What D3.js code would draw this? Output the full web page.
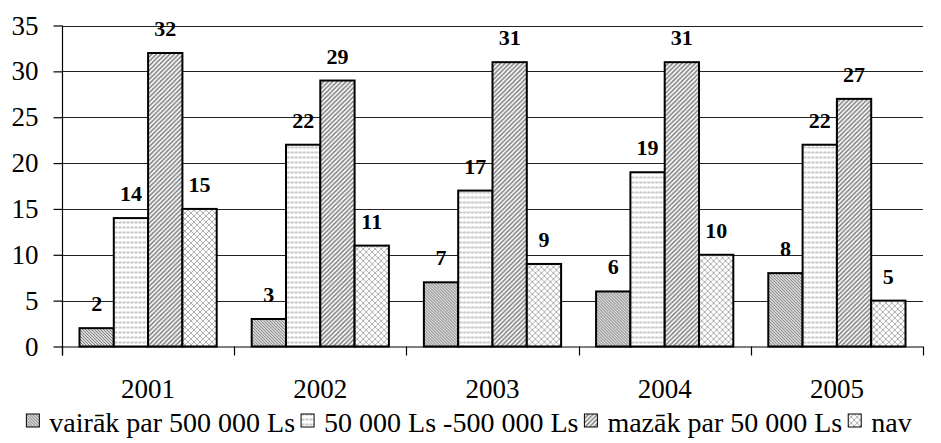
<!DOCTYPE html>
<html><head><meta charset="utf-8">
<script src="https://cdn.jsdelivr.net/npm/d3@7"></script>
</head>
<body style="margin:0;background:#fff">
<svg id="chart" width="941" height="443"></svg>
<script>
const years = ["2001","2002","2003","2004","2005"];
const seriesNames = ["vairāk par 500 000 Ls","50 000 Ls -500 000 Ls","mazāk par 50 000 Ls","nav"];
const s1 = [2,3,7,6,8];
const s2 = [14,22,17,19,22];
const s3 = [32,29,31,31,27];
const s4 = [15,11,9,10,5];
const yTicks = [0,5,10,15,20,25,30,35];

const seriesValues = [s1,s2,s3,s4];
const FONT = "Liberation Serif";
const svg = d3.select("#chart");
const L = 62, R = 923, T = 25.5, B = 346.5;

// patterns
const defs = svg.append("defs");
const p1 = defs.append("pattern").attr("id","pat0").attr("patternUnits","userSpaceOnUse").attr("width",3).attr("height",3);
p1.append("rect").attr("width",3).attr("height",3).attr("fill","#fff");
p1.append("path").attr("d","M-1,-1 L4,4 M-1,2 L1,4 M2,-1 L4,1").attr("stroke","#7a7a7a").attr("stroke-width",1.1);

const p2 = defs.append("pattern").attr("id","pat1").attr("patternUnits","userSpaceOnUse").attr("width",4).attr("height",5);
p2.append("rect").attr("width",4).attr("height",5).attr("fill","#fff");
p2.append("path").attr("d","M0,3.5 L2,1.5 L2,3.5 L4,1.5").attr("stroke","#b8b8b8").attr("stroke-width",1).attr("fill","none");

const p3 = defs.append("pattern").attr("id","pat2").attr("patternUnits","userSpaceOnUse").attr("width",4.5).attr("height",4.5);
p3.append("rect").attr("width",4.5).attr("height",4.5).attr("fill","#fff");
p3.append("path").attr("d","M-1,5.5 L5.5,-1 M-1,1 L1,-1 M3.5,5.5 L5.5,3.5").attr("stroke","#808080").attr("stroke-width",1.5);

const p4 = defs.append("pattern").attr("id","pat3").attr("patternUnits","userSpaceOnUse").attr("width",6).attr("height",6);
p4.append("rect").attr("width",6).attr("height",6).attr("fill","#fff");
p4.append("path").attr("d","M0,0 L6,6 M6,0 L0,6").attr("stroke","#b0b0b0").attr("stroke-width",1);

const y = d3.scaleLinear().domain([0,35]).range([B,T]);
const x0 = d3.scaleBand().domain(years).range([L,R]).padding(0);
const x1 = d3.scaleBand().domain(d3.range(4)).range([0,x0.bandwidth()]).paddingInner(0).paddingOuter(0.51);

// gridlines
svg.append("g").selectAll("line").data(yTicks.filter(d=>d>0)).join("line")
  .attr("x1",L).attr("x2",R).attr("y1",d=>Math.round(y(d))+0.5).attr("y2",d=>Math.round(y(d))+0.5)
  .attr("stroke","#222").attr("stroke-width",1.2);

// y axis
const yAxis = d3.axisLeft(y).tickValues(yTicks).tickSize(9).tickPadding(15);
const gy = svg.append("g").attr("transform",`translate(${L+0.5},0)`).call(yAxis);
gy.attr("font-family",FONT).attr("font-size",27);
gy.select(".domain").attr("stroke","#000").attr("stroke-width",1.2).attr("d",`M0,${T}V${B+9}`);
gy.selectAll(".tick line").attr("stroke","#000").attr("stroke-width",1.2);
gy.selectAll(".tick text").attr("font-family",FONT).attr("font-size",27).attr("fill","#000");

// bars
const groups = svg.append("g").selectAll("g").data(years).join("g")
  .attr("transform",d=>`translate(${x0(d)},0)`);
groups.selectAll("rect").data((d,i)=>seriesValues.map((s,k)=>({k, v:s[i]}))).join("rect")
  .attr("x",d=>x1(d.k)).attr("width",x1.bandwidth())
  .attr("y",d=>y(d.v)).attr("height",d=>y(0)-y(d.v))
  .attr("fill",d=>`url(#pat${d.k})`).attr("stroke","#000").attr("stroke-width",2);
groups.selectAll("text").data((d,i)=>seriesValues.map((s,k)=>({k, v:s[i]}))).join("text")
  .attr("x",d=>x1(d.k)+x1.bandwidth()/2).attr("y",d=>y(d.v)-17)
  .attr("text-anchor","middle").attr("font-family",FONT).attr("font-weight","bold")
  .attr("font-size",22).attr("fill","#000").text(d=>d.v);

// x axis
const xAxis = d3.axisBottom(x0).tickSize(0).tickPadding(32);
const gx = svg.append("g").attr("transform",`translate(0,${B+0.5})`).call(xAxis);
gx.attr("font-family",FONT).attr("font-size",27);
gx.select(".domain").attr("stroke","#000").attr("stroke-width",1.2).attr("d",`M${L},0H${R}`);
gx.selectAll(".tick text").attr("font-family",FONT).attr("font-size",27).attr("fill","#000");
svg.append("g").selectAll("line").data(years.map(d=>x0(d)).concat([R])).join("line")
  .attr("x1",d=>Math.round(d)+0.5).attr("x2",d=>Math.round(d)+0.5).attr("y1",B).attr("y2",B+9)
  .attr("stroke","#000").attr("stroke-width",1.2);

// legend
const leg = svg.append("g");
const items = leg.selectAll("g").data(seriesNames).join("g");
items.append("rect").attr("width",13).attr("height",13).attr("y",-18)
  .attr("fill",(d,i)=>`url(#pat${i})`).attr("stroke","#000").attr("stroke-width",1);
items.append("text").attr("x",23).attr("y",0).attr("font-family",FONT).attr("font-size",28)
  .attr("fill","#000").text(d=>d);

let xpos = 0; const pos = [];
items.each(function(){ pos.push(xpos); xpos += this.getBBox().width + 6; });
const total = xpos - 6;
const startX = 469 - total/2;
items.attr("transform",(d,i)=>`translate(${startX+pos[i]},432)`);
</script>
</body></html>
